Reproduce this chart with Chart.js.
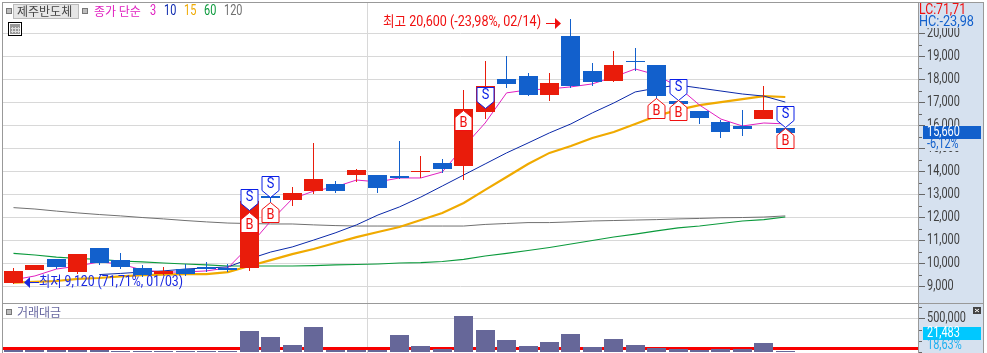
<!DOCTYPE html>
<html lang="ko">
<head>
<meta charset="utf-8">
<title>제주반도체</title>
<script src="https://cdn.jsdelivr.net/npm/chart.js@4"></script>
<style>html,body{margin:0;padding:0;background:#fff;overflow:hidden}canvas{display:block}</style>
</head>
<body>
<canvas id="c" width="987" height="353"></canvas>
<script>
const opens =[9150,9710,10190,9620,10670,10140,9800,9530,9750,9840,9800,9800,12930,12750,13140,13450,13840,13840,13800,13980,14360,14230,16580,18010,18140,17320,19880,18360,17930,18770,18620,17060,16620,16140,15970,16270,15880];
const closes=[9670,9930,9840,10400,10010,9840,9490,9670,9530,9750,9710,12710,12840,13060,13670,13140,14060,13270,13710,14000,14100,16710,17710,17800,17320,17840,17710,17880,18620,18740,17270,16930,16320,15710,15840,16670,15660];
const highs =[9800,9930,10190,10400,10670,10450,9930,9840,9970,10060,9970,12710,13100,13320,15230,13580,14100,13840,15320,14670,14540,17540,18800,19010,18270,18270,20600,18710,19230,19360,18620,17300,16620,16230,16670,17710,15880];
const lows  =[9120,9700,9750,9530,9930,9750,9400,9490,9450,9620,9620,9670,12450,12490,13010,13060,13540,13060,13670,13710,13930,13620,16270,17620,17270,17060,17620,17710,17880,18360,17100,16800,16060,15450,15540,16270,15660];
const ma3  =[9280,9450,9750,9880,10060,9970,9710,9620,9620,9670,9800,10750,11840,12800,13140,13320,13620,13540,13710,13710,13970,15060,16100,17410,17540,17580,17670,17800,18100,18450,18190,17670,16880,16270,15970,16100,16060];
const ma10 =[null,null,null,null,9510,9560,9620,9670,9750,9800,9840,10190,10490,10710,11010,11320,11670,12100,12450,12880,13360,13840,14320,14800,15230,15670,16060,16540,16970,17450,17620,17750,17620,17490,17360,17270,17010];
const ma15 =[9160,9190,9230,9320,9360,9430,9490,9510,9530,9530,9620,9880,10140,10400,10620,10880,11140,11360,11580,11880,12190,12620,13190,13750,14320,14800,15100,15450,15710,16060,16410,16670,16880,17010,17140,17270,17230];
const ma60 =[10430,10360,10270,10210,10170,10100,10060,10010,9970,9930,9880,9880,9880,9880,9900,9930,9950,9970,10010,10030,10080,10170,10320,10430,10560,10690,10840,10990,11140,11270,11410,11540,11620,11730,11840,11900,12010];
const ma120=[12420,12360,12270,12190,12120,12060,11990,11930,11860,11800,11750,11730,11710,11710,11670,11640,11620,11620,11620,11620,11620,11620,11690,11730,11770,11770,11800,11840,11860,11880,11900,11930,11950,11980,11990,12010,12060];
const volumes=[30000,30000,30000,30000,30000,13000,13000,13000,13000,13000,13000,311600,222600,103900,371000,30000,30000,30000,252000,89000,44500,534000,326000,178000,89000,148000,267000,74000,193000,103900,59000,44500,30000,44500,44500,133500,21483];
const volumeLine=[52000,52000];
const priceTicks=[9000,10000,11000,12000,13000,14000,15000,16000,17000,18000,19000,20000];
const minorPriceTicks=[9500,10500,11500,12500,13500,14500,15500,16500,17500,18500,19500];
const volumeTicks=[500000];
const minorVolumeTicks=[670000,330000,170000,0];
const monthBreaks=[16.5];
const sellIdx=[11,12,22,31,36];
const sellPrice=[12320,12880,16750,17100,15930];
const buyIdx=[11,12,21,30,31,36];
const buyPrice=[12230,12660,16660,17190,17100,15880];
const legendParts=[["종가 단순","#E020C0"],["3","#E020C0"],["10","#0A28B0"],["15","#F0AA00"],["60","#0B9A3C"],["120","#707070"]];
const stockName="제주반도체", volumeName="거래대금";
const highNote="최고 20,600 (-23,98%, 02/14)", lowNote="최저 9,120 (71,71%, 01/03)";
const lcText="LC:71,71", hcText="HC:-23,98", lastPrice="15,660", lastPct="-6,12%", lastVol="21,483", lastVolPct="18,63%";

const RED="#E91C0B", BLUE="#1260CC";
const idx=opens.map((_,i)=>i);
const col=idx.map(i=>closes[i]>=opens[i]?RED:BLUE);
const pts=a=>a.map((v,i)=>({x:i,y:v}));
const XMIN=-0.4897, XMAX=42.19;
const NUM="Roboto,'Noto Sans CJK KR',sans-serif";
const KR="'Noto Sans CJK KR',sans-serif";
const SX=0.78;

function ma(data,color,w,order){return{type:'line',data:pts(data),borderColor:color,borderWidth:w,pointRadius:0,tension:0,order,yAxisID:'y',spanGaps:false};}
function nt(ctx,s,x,y,color,size,target){
  ctx.save();ctx.font=size+"px "+NUM;ctx.fillStyle=color;ctx.textAlign='left';ctx.textBaseline='middle';
  const sx=target?target/ctx.measureText(s).width:SX;
  ctx.translate(x,y);ctx.scale(sx,1);ctx.fillText(s,0,0);ctx.restore();
}
function text(ctx,s,x,y,color,font){ctx.font=font;ctx.fillStyle=color;ctx.textAlign='left';ctx.textBaseline='middle';ctx.fillText(s,x,y);}
function mark(ctx,x,y,dir,stroke,letter){
  const hw=8.5,h=dir>0?21:20,sh=7;
  ctx.beginPath();
  if(dir>0){ctx.moveTo(x,y);ctx.lineTo(x-hw,y-sh);ctx.lineTo(x-hw,y-h);ctx.lineTo(x+hw,y-h);ctx.lineTo(x+hw,y-sh);}
  else{ctx.moveTo(x,y);ctx.lineTo(x-hw,y+sh);ctx.lineTo(x-hw,y+h);ctx.lineTo(x+hw,y+h);ctx.lineTo(x+hw,y+sh);}
  ctx.closePath();ctx.fillStyle="#fff";ctx.fill();ctx.lineWidth=1;ctx.strokeStyle=stroke;ctx.stroke();
  ctx.save();ctx.fillStyle=stroke;ctx.font="15px "+NUM;ctx.textAlign='center';ctx.textBaseline='middle';
  ctx.translate(x,dir>0?y-h/2-3:y+h/2+3);ctx.scale(0.85,1);ctx.fillText(letter,0,0);ctx.restore();
}
function sq(ctx,x,y){ctx.fillStyle="#BDBDBD";ctx.fillRect(x,y,5,5);ctx.strokeStyle="#777";ctx.lineWidth=1;ctx.strokeRect(x-.5,y-.5,5,5);}

const snap={id:'snap',afterDatasetsUpdate(chart){
  chart.data.datasets.forEach((d,i)=>{
    if(d.type!=='bar')return;
    chart.getDatasetMeta(i).data.forEach(el=>{
      el.x=Math.floor(el.x)+0.5;
      let t=Math.round(Math.min(el.y,el.base)),b=Math.round(Math.max(el.y,el.base));
      if(b-t<1)b=t+1;
      el.y=t;el.base=b;
    });
  });
}};
const bg={id:'bg',beforeDraw(chart){
  const c=chart.ctx;c.save();c.fillStyle="#D6E1EF";c.fillRect(918,3,65,350);c.restore();
}};
const over={id:'over',afterDatasetsDraw(chart){
  const c=chart.ctx,X=chart.scales.x,Y=chart.scales.y;
  c.save();
  sellIdx.forEach((k,n)=>mark(c,Math.floor(X.getPixelForValue(k))+0.5,Math.round(Y.getPixelForValue(sellPrice[n]))+0.5,1,"#0A1EE6","S"));
  buyIdx.forEach((k,n)=>mark(c,Math.floor(X.getPixelForValue(k))+0.5,Math.round(Y.getPixelForValue(buyPrice[n]))+0.5,-1,"#F01010","B"));
  nt(c,highNote,383,22.5,"#F01010",14,158);
  c.strokeStyle="#F01010";c.lineWidth=1;c.beginPath();c.moveTo(546,23.5);c.lineTo(556,23.5);c.stroke();
  c.fillStyle="#F01010";c.beginPath();c.moveTo(555,18);c.lineTo(561,23.5);c.lineTo(555,29);c.closePath();c.fill();
  nt(c,lowNote,39,282,"#1A28E0",14,144);
  c.strokeStyle="#1A28E0";c.beginPath();c.moveTo(30,282.5);c.lineTo(39,282.5);c.stroke();
  c.fillStyle="#1A28E0";c.beginPath();c.moveTo(30,277);c.lineTo(24,282.5);c.lineTo(30,288);c.closePath();c.fill();
  c.restore();
},afterDraw(chart){
  const c=chart.ctx,Y=chart.scales.y,V=chart.scales.yv;
  c.save();
  c.fillStyle="#999";
  c.fillRect(2,2,982,1);c.fillRect(2,2,1,351);c.fillRect(3,303,980,1);c.fillRect(918,2,1,351);c.fillRect(983,2,1,351);
  c.fillStyle="#666";
  priceTicks.forEach(v=>c.fillRect(919,Math.round(Y.getPixelForValue(v)),6,1));
  minorPriceTicks.forEach(v=>c.fillRect(919,Math.round(Y.getPixelForValue(v)),3,1));
  volumeTicks.forEach(v=>c.fillRect(919,Math.round(V.getPixelForValue(v)),6,1));
  minorVolumeTicks.forEach(v=>c.fillRect(919,Math.round(V.getPixelForValue(v)),3,1));
  Y.ticks.forEach(t=>nt(c,t.label,927,Y.getPixelForValue(t.value)+0.5,"#404040",14));
  V.ticks.forEach(t=>nt(c,t.label,927,V.getPixelForValue(t.value)+0.5,"#404040",14));
  sq(c,7,9);
  c.fillStyle="#E6E6E6";c.fillRect(13,4,66,14);c.strokeStyle="#BBB";c.lineWidth=1;c.strokeRect(13.5,4.5,65,14);
  text(c,stockName,17,11,"#444","12px "+KR);
  sq(c,83,9);
  const lx=[94,150,164,184,204,224];
  legendParts.forEach((p,i)=>{ if(i) nt(c,p[0],lx[i],11.5,p[1],14); else text(c,p[0],lx[i],11,p[1],"12px "+KR); });
  c.fillStyle="#fff";c.fillRect(8,22,14,14);
  c.strokeStyle="#000";c.strokeRect(8.5,22.5,13,13);
  c.fillStyle="#999";c.fillRect(10,24,10,10);
  c.fillStyle="#DDD";[12,15,18].forEach(a=>c.fillRect(a,27,1,6));c.fillRect(11,28,9,1);c.fillRect(11,31,9,1);
  sq(c,7,310);
  text(c,volumeName,17,312,"#6868A0","12px "+KR);
  c.fillStyle="#D6E1EF";c.fillRect(919,3,64,25);
  nt(c,lcText,919,10,"#F01010",14,47);
  nt(c,hcText,919,22,"#1260CC",14,55);
  c.fillStyle="#D6E1EF";c.fillRect(926,139,50,12);
  c.fillStyle="#1260CC";c.fillRect(923,126,58,13);
  nt(c,lastPrice,927,132.5,"#fff",14);
  nt(c,lastPct,927,144.5,"#1260CC",14);
  c.fillStyle="#00C8FF";c.fillRect(923,327,58,13);
  nt(c,lastVol,927,333.5,"#fff",14);
  nt(c,lastVolPct,927,345.5,"#20B0F0",14);
  c.fillStyle="#444";c.fillRect(973,307,8,7);
  c.strokeStyle="#fff";c.beginPath();c.moveTo(975,309);c.lineTo(979,312);c.moveTo(979,309);c.lineTo(975,312);c.stroke();
  c.restore();
}};
function fitY(s){s.width=66;s.paddingTop=0;s.paddingBottom=0;s.paddingLeft=0;s.paddingRight=0;}
const fmt=v=>v.toLocaleString('en-US');

new Chart(document.getElementById('c'),{
  data:{datasets:[
    {type:'line',data:[{x:XMIN,y:volumeLine[0]},{x:XMAX,y:volumeLine[1]}],borderColor:"#F80000",borderWidth:3,pointRadius:0,yAxisID:'yv',order:20},
    {type:'bar',data:pts(volumes),backgroundColor:"#666799",barThickness:19,grouped:false,yAxisID:'yv',order:19,inflateAmount:0},
    ma(ma120,"#707070",1,10),
    ma(ma60,"#0B9A3C",1.1,9),
    ma(ma15,"#F0AA00",2.2,8),
    ma(ma10,"#0A28A8",1,7),
    ma(ma3,"#E020C0",1,6),
    {type:'bar',data:idx.map(i=>({x:i,y:[lows[i],highs[i]]})),backgroundColor:col,barThickness:1,grouped:false,yAxisID:'y',order:3,inflateAmount:0},
    {type:'bar',data:idx.map(i=>({x:i,y:[opens[i],closes[i]]})),backgroundColor:col,barThickness:19,grouped:false,yAxisID:'y',order:2,inflateAmount:0,minBarLength:1}
  ]},
  options:{
    responsive:false,animation:false,devicePixelRatio:1,
    layout:{padding:{top:3,left:3,right:3,bottom:0}},
    plugins:{legend:{display:false},tooltip:{enabled:false}},
    scales:{
      x:{type:'linear',min:XMIN,max:XMAX,offset:false,
         afterBuildTicks(s){s.ticks=monthBreaks.map(v=>({value:v}));},
         ticks:{display:false},border:{display:false},
         grid:{offset:false,color:"#D8D8D8",lineWidth:1,drawTicks:false},afterFit(s){s.height=0;}},
      y:{type:'linear',position:'right',stack:'p',stackWeight:300.3,min:8261,max:21317,
         afterBuildTicks(s){s.ticks=priceTicks.map(v=>({value:v}));},
         afterFit:fitY,border:{display:false},
         grid:{color:"#D8D8D8",lineWidth:1,drawTicks:false},
         ticks:{display:false,callback:fmt}},
      yv:{type:'linear',position:'right',stack:'p',stackWeight:49.7,min:-14837,max:722500,
         afterBuildTicks(s){s.ticks=volumeTicks.map(v=>({value:v}));},
         afterFit:fitY,border:{display:false},
         grid:{color:"#D8D8D8",lineWidth:1,drawTicks:false},
         ticks:{display:false,callback:fmt}}
    }
  },
  plugins:[snap,bg,over]
});
</script>
</body>
</html>
